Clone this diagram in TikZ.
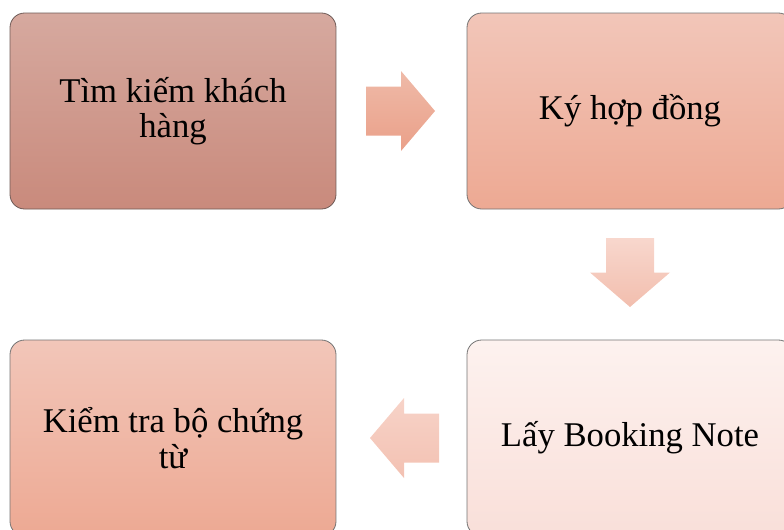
\documentclass[tikz,border=0pt]{standalone}
\usepackage{fontspec}
\setmainfont{Liberation Serif}
\usetikzlibrary{calc}
\definecolor{boxatop}{HTML}{D6A99F}
\definecolor{boxabot}{HTML}{C98A7C}
\definecolor{boxaline}{HTML}{6E5A56}
\definecolor{boxbtop}{HTML}{F2C6B9}
\definecolor{boxbbot}{HTML}{EDA993}
\definecolor{boxctop}{HTML}{FDF2EF}
\definecolor{boxcbot}{HTML}{F9DFD9}
\definecolor{arratop}{HTML}{EFBAA8}
\definecolor{arrabot}{HTML}{EAA089}
\definecolor{arrbtop}{HTML}{F8D7CD}
\definecolor{arrbbot}{HTML}{F2BEAE}
\definecolor{arrctop}{HTML}{F7D3C8}
\definecolor{arrcbot}{HTML}{F3C1B2}

\begin{document}
\begin{tikzpicture}[x=0.75pt,y=-0.75pt,
  stepbox/.style={draw=black!55,line width=0.6pt,rounded corners=11pt,
    minimum width=244.5pt,minimum height=147pt,inner sep=0pt,align=center,
    font=\fontsize{26}{26.5}\selectfont}]
\useasboundingbox (0,0) rectangle (784,529);
\clip (0,0) rectangle (784,529);
\node[stepbox,draw=boxaline,top color=boxatop,bottom color=boxabot] (tim) at (173,111) {Tìm kiếm khách\\hàng};
\node[stepbox,top color=boxbtop,bottom color=boxbbot] (ky) at (630,111) {Ký hợp đồng};
\node[stepbox,top color=boxctop,bottom color=boxcbot] (lay) at (630,438) {Lấy Booking Note};
\node[stepbox,top color=boxbtop,bottom color=boxbbot] (kiem) at (173,438) {Kiểm tra bộ chứng\\từ};
\coordinate (tok) at ($(tim.east)!0.5!(ky.west)+(-1,0)$);
\coordinate (tolay) at ($(ky.south)!0.5!(lay.north)+(0,-2)$);
\coordinate (tokiem) at ($(lay.west)!0.5!(kiem.east)+(3,0)$);
\path[top color=arratop,bottom color=arrabot] (tok) ++(-34.5,-24.5) -- ++(35,0) -- ++(0,-15.5)
  -- ++(34,40) -- ++(-34,40) -- ++(0,-15.5) -- ++(-35,0) -- cycle;
\path[top color=arrbtop,bottom color=arrbbot] (tolay) ++(-24,-34.5) -- ++(48,0) -- ++(0,34.5)
  -- ++(16,0) -- ++(-40,34.5) -- ++(-40,-34.5) -- ++(16,0) -- cycle;
\path[top color=arrctop,bottom color=arrcbot] (tokiem) ++(34.5,-24.5) -- ++(-35,0) -- ++(0,-15.5)
  -- ++(-34,40) -- ++(34,40) -- ++(0,-15.5) -- ++(35,0) -- cycle;
\end{tikzpicture}
\end{document}
